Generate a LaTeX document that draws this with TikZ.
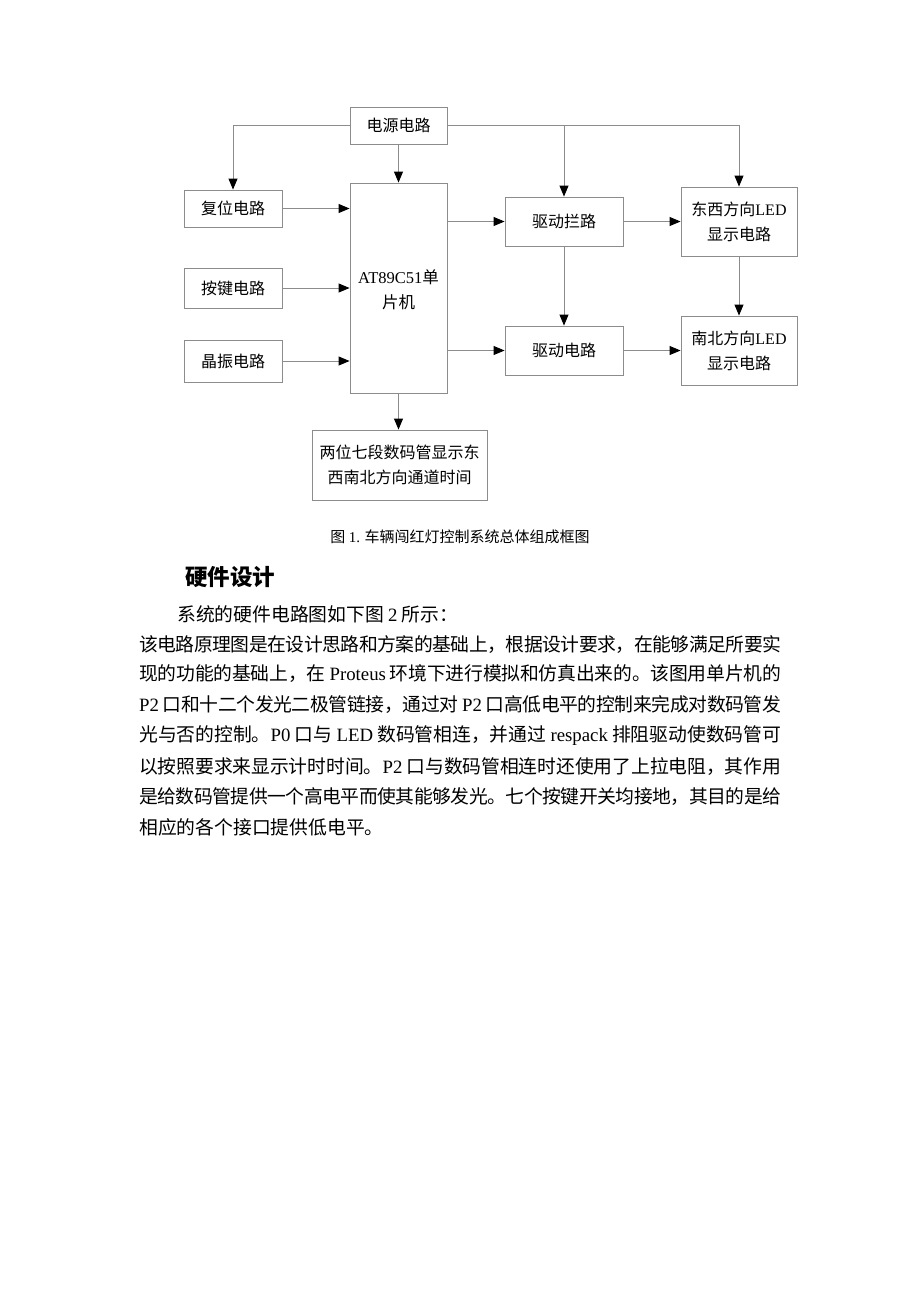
\documentclass[tikz,border=0pt]{standalone}
\usepackage{fontspec}
\setmainfont{Noto Sans CJK SC}
\newfontfamily\lat{Liberation Serif}
\usetikzlibrary{arrows.meta}
\XeTeXinterchartokenstate=1
\newcount\cjkcc
\cjkcc="3000
\loop\ifnum\cjkcc<"A000 \XeTeXcharclass\cjkcc=7 \advance\cjkcc by 1 \repeat
\cjkcc="FF00
\loop\ifnum\cjkcc<"FFF0 \XeTeXcharclass\cjkcc=7 \advance\cjkcc by 1 \repeat
\XeTeXinterchartoks 7 7 = {\hskip 0pt plus 2pt minus 1pt\relax}
\definecolor{linegray}{RGB}{140,140,140}
\tikzset{
  box/.style={draw=linegray, line width=0.9pt, inner sep=0pt, align=center,
    font=\fontsize{16}{25}\selectfont, text=black},
  conn/.style={draw=linegray, line width=0.9pt,
    -{Triangle[length=11pt,width=9pt,color=black]}},
  para/.style={anchor=west, inner sep=0pt, font=\fontsize{18.8}{22}\selectfont}
}
\newcommand{\fl}[1]{\hbox to 642pt{#1}}
\begin{document}
\begin{tikzpicture}[x=1pt,y=-1pt]
\useasboundingbox (0,0) rectangle (920,1302);
\fill[white] (0,0) rectangle (920,1302);

% boxes
\node[box, minimum width=97pt, minimum height=37pt] (power) at (398.5,125.5) {电源电路};
\node[box, minimum width=98pt, minimum height=37pt] (reset) at (233,208.5) {复位电路};
\node[box, minimum width=98pt, minimum height=40pt] (key) at (233,288) {按键电路};
\node[box, minimum width=98pt, minimum height=42pt] (xtal) at (233,361) {晶振电路};
\node[box, minimum width=97pt, minimum height=210pt] (mcu) at (398.5,288) {};
\node[align=center, inner sep=0pt, font=\fontsize{16.5}{25}\selectfont] (mcut) at (398.5,290) {{\lat AT89C51}单\\片机};
\node[box, minimum width=175pt, minimum height=70pt] (disp) at (399.5,465) {两位七段数码管显示东\\西南北方向通道时间};
\node[box, minimum width=118pt, minimum height=49pt] (latch) at (564,221.5) {驱动拦路};
\node[box, minimum width=118pt, minimum height=49pt] (drv) at (564,350.5) {驱动电路};
\node[box, minimum width=116pt, minimum height=69pt] (ew) at (739,221.5) {东西方向{\lat LED}\\显示电路};
\node[box, minimum width=116pt, minimum height=69pt] (ns) at (739,350.5) {南北方向{\lat LED}\\显示电路};

% connectors
\draw[conn] (power.west) -| (reset.north);
\draw[conn] (power.south) -- (mcu.north);
\draw[conn] (power.east) -| (ew.north);
\draw[conn] (latch.north |- power.east) -- (latch.north);
\draw[conn] (reset.east) -- (mcu.west |- reset.east);
\draw[conn] (key.east) -- (mcu.west |- key.east);
\draw[conn] (xtal.east) -- (mcu.west |- xtal.east);
\draw[conn] (mcu.east |- latch.west) -- (latch.west);
\draw[conn] (mcu.east |- drv.west) -- (drv.west);
\draw[conn] (latch.east) -- (ew.west);
\draw[conn] (drv.east) -- (ns.west);
\draw[conn] (latch.south) -- (drv.north);
\draw[conn] (ew.south) -- (ns.north);
\draw[conn] (mcu.south) -- (mcu.south |- disp.north);

% caption
\node[inner sep=0pt, font=\fontsize{15}{18}\selectfont] (cap) at (460,537) {图 {\lat 1.} 车辆闯红灯控制系统总体组成框图};

% heading
\node[anchor=west, inner sep=0pt, font=\fontsize{22.5}{26}\selectfont\bfseries] (head) at (185,577) {硬件设计};

% paragraph
\node[para] (l0) at (177,614) {系统的硬件电路图如下图 {\lat 2} 所示：};
\node[para] (l1) at (139,645) {\fl{该电路原理图是在设计思路和方案的基础上，根据设计要求，在能够满足所要实}};
\node[para] (l2) at (139,674) {\fl{现的功能的基础上，在 {\lat Proteus} 环境下进行模拟和仿真出来的。该图用单片机的}};
\node[para] (l3) at (139,705) {\fl{{\lat P2} 口和十二个发光二极管链接，通过对 {\lat P2} 口高低电平的控制来完成对数码管发}};
\node[para] (l4) at (139,736) {\fl{光与否的控制。{\lat P0} 口与 {\lat LED} 数码管相连，并通过 {\lat respack} 排阻驱动使数码管可}};
\node[para] (l5) at (139,767) {\fl{以按照要求来显示计时时间。{\lat P2} 口与数码管相连时还使用了上拉电阻，其作用}};
\node[para] (l6) at (139,797) {\fl{是给数码管提供一个高电平而使其能够发光。七个按键开关均接地，其目的是给}};
\node[para] (l7) at (139,827) {相应的各个接口提供低电平。};
\end{tikzpicture}
\end{document}
